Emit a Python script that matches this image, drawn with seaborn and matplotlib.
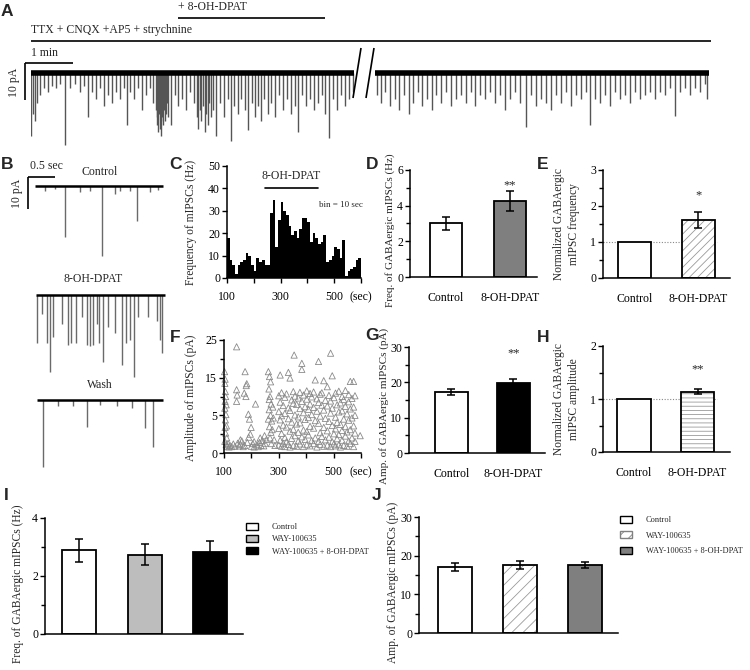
import numpy as np
import pandas as pd
import matplotlib
matplotlib.use("Agg")
import matplotlib.pyplot as plt
import seaborn as sns
from matplotlib.patches import Rectangle, Patch
from matplotlib.lines import Line2D

# ---------------------------------------------------------------- data
# Panel A: continuous recording, detected events (time s, amplitude pA)
a_left_t = [0, 2.5, 5, 7.5, 11, 16, 21, 26, 31, 36, 42.5, 49, 55, 61, 66, 71, 76, 81, 86, 91,
            96, 101, 106, 111, 116, 120, 124, 129, 134, 139, 144, 149, 152,
            156, 157, 158, 159, 160, 161, 162, 163, 164, 165, 166, 167, 168, 169, 170, 171,
            175, 180, 184, 189, 194, 199, 204,
            207, 209, 211, 213, 215, 217, 219, 221, 223, 225, 227,
            231, 236, 241, 246, 250, 254, 259, 262, 267, 271,
            276, 280, 284, 287, 291, 296, 300, 305, 310, 315,
            320, 325, 330, 334, 339, 344, 349, 354, 359, 364,
            368, 372, 378, 382, 388, 392, 398, 402]
a_left_amp = [17, 11, 13, 8, 6, 4, 5, 3.5, 4, 3, 19.5, 4, 3, 5, 3.5, 12, 5, 7, 4, 9,
              6, 8, 5, 7, 4, 14, 5, 7, 4, 10, 6, 4, 8,
              10, 14, 12, 16, 11, 15, 13, 17, 12, 14, 10, 13, 9, 11, 8, 12,
              14, 6, 9, 7, 10, 5, 8,
              12, 15, 10, 13, 9, 16, 11, 14, 8, 12, 10,
              17, 8, 12, 7, 18.5, 9, 11, 7, 10, 15.5,
              8, 12, 9, 13, 7, 11, 8, 12, 6, 10,
              7, 11, 9, 16, 6, 9, 7, 10, 8, 6,
              11, 17.5, 7, 10, 6, 9, 7, 5]
a_right_t = [2.5, 7.5, 12.5, 19, 25, 30, 36, 42.5, 47.5, 54, 59, 65, 71, 76, 82.5, 89, 95, 101,
             107.5, 114, 120, 125, 131, 137.5, 144, 150, 156, 162.5, 169, 175, 181, 189, 195,
             201, 207.5, 214, 220, 226, 232.5, 239, 245, 251, 257.5, 264, 269, 275, 281, 287.5,
             294, 300, 306, 312.5, 319, 325, 331, 337.5, 344, 350, 356, 362.5, 369, 375, 381,
             387.5, 394, 400, 406, 412.5, 415]
a_right_amp = [6, 8, 5, 9, 7, 10, 6, 11, 8, 5, 9, 7, 10, 6, 8, 5, 9, 7, 6, 8,
               5, 9, 6, 7, 5, 8, 6, 10, 7, 5, 8, 14.5, 6, 9, 7, 8, 10, 6, 8, 5,
               9, 6, 7, 5, 14, 7, 8, 6, 9, 5, 7, 6, 8, 5, 7, 6, 5, 7, 5, 6,
               4, 11.5, 5, 4, 6, 4, 5, 3, 7]

# Panel B: example sweeps (time s, amplitude pA)
b_ctrl_t = [0.185, 0.37, 0.556, 0.83, 1.02, 1.24, 1.48, 1.57, 1.76, 1.89, 2.13, 2.28]
b_ctrl_amp = [1.5, 1.0, 16, 2.0, 1.5, 22, 2.5, 1.5, 1.5, 11, 2.0, 1.2]
b_dpat_t = [0.02, 0.11, 0.20, 0.26, 0.31, 0.48, 0.59, 0.65, 0.74, 0.85, 0.94, 1.00, 1.06,
            1.13, 1.17, 1.24, 1.33, 1.46, 1.59, 1.67, 1.74, 1.81, 1.89, 2.07, 2.24, 2.30, 2.33]
b_dpat_amp = [15, 6, 15, 24, 13, 9, 15.6, 15, 15, 7, 15.6, 16, 15.6,
              9, 15, 21, 10, 12, 22, 15, 14, 25.6, 7, 7, 8, 14, 18]
b_wash_t = [0.11, 0.39, 0.67, 0.93, 1.17, 1.48, 1.76, 2.0, 2.15]
b_wash_amp = [21, 2, 2, 8.4, 1.5, 2, 2.5, 8.8, 14.7]

# Panel C: frequency histogram, bin = 10 s
c_bin_start = list(range(100, 600, 10))
c_freq = [18, 8, 6, 2, 6, 7, 8, 11, 10, 6, 3, 9, 7, 8, 6, 6,
          29, 35, 14, 26, 34, 30, 28, 23, 19, 21, 18, 22, 27, 27, 25, 16, 20, 18, 15, 16, 19,
          7, 8, 10, 14, 13, 9, 17, 1, 3, 4, 5, 8, 9]

# Panel D/E/G/H: two-group comparisons
two_groups = ["Control", "8-OH-DPAT"]
d_mean, d_sem = [3.0, 4.25], [0.35, 0.55]
e_mean, e_sem = [1.0, 1.62], [0.0, 0.22]
g_mean, g_sem = [17.3, 19.8], [0.9, 1.2]
h_mean, h_sem = [1.0, 1.14], [0.0, 0.05]

# Panel F: amplitude scatter (time s, amplitude on printed axis scale)
f_base_t = [102, 104, 103, 105, 106, 104, 108, 103, 107, 105, 109, 104, 106, 110, 103, 108, 112, 115, 118,
            146, 146, 148, 146,
            177, 183, 181, 174, 180, 189, 193, 215, 199, 196, 190,
            122, 128, 134, 140, 150, 155, 160, 165, 170, 175, 185, 200, 205, 210, 220, 225, 230, 235,
            240, 245, 250, 255, 160, 210, 232, 248,
            262, 266, 270, 264, 268, 272, 265, 270, 274, 266, 271, 268, 273, 278, 280, 276, 283, 286,
            262, 265]
f_base_amp = [21.6, 19.6, 18.5, 16.3, 15.0, 13.7, 12.8, 11.9, 10.2, 8.8, 7.2, 6.8, 5.3, 4.0, 3.1, 2.2,
              1.8, 2.5, 1.6,
              28.2, 16.8, 15.4, 13.7,
              21.6, 18.4, 17.9, 15.9, 15.0, 10.3, 9.0, 13.0, 6.8, 5.0, 4.2,
              2.0, 1.7, 2.4, 1.8, 2.6, 1.9, 2.3, 3.2, 1.7, 2.0, 2.8, 1.8, 2.5, 3.0, 2.2, 1.7, 2.8, 2.0,
              3.3, 1.9, 2.6, 3.6, 3.5, 1.6, 4.0, 4.6,
              21.6, 20.3, 18.9, 17.0, 15.0, 13.0, 11.5, 10.0, 8.5, 7.0, 5.5, 4.0, 2.5, 12.2, 9.3, 6.2,
              3.5, 2.0, 9.0, 14.2]
f_drug_times = [300, 305, 310, 316, 322, 328, 335, 341, 347, 353, 356, 359, 365, 371, 377, 384,
                390, 396, 402, 408, 414, 420, 427, 433, 439, 445, 451, 457, 464, 470, 477, 483,
                489, 495, 501, 507, 513, 519, 525, 531, 537, 543, 549, 555, 561, 567, 573, 578, 597]
f_drug_amps = [[2.1, 6.5, 11.0, 15.2], [20.7, 3.4, 8.8, 13.5], [1.8, 5.2, 9.9, 16.0],
               [2.6, 7.4, 12.6], [4.1, 10.5, 14.8, 1.7], [3.0, 6.9, 15.7],
               [21.4, 2.3, 9.1, 12.0], [19.9, 5.8, 11.3, 1.6], [3.9, 8.2, 14.1],
               [2.0, 6.3, 13.2, 16.3], [26.0], [4.6, 10.1, 15.1], [1.8, 7.7, 12.9],
               [3.2, 9.6, 14.6, 5.5], [2.4, 8.0, 11.8, 16.1], [23.8, 22.2, 4.3, 13.7],
               [1.7, 6.1, 10.7, 15.4], [3.6, 8.9, 12.3], [2.2, 5.7, 14.3, 16.5],
               [4.8, 9.4, 11.6], [1.9, 7.1, 13.0, 15.8], [3.3, 10.2, 14.9],
               [2.5, 6.6, 12.1, 16.2], [19.4, 4.0, 8.6], [1.6, 11.1, 14.4],
               [24.3, 3.1, 7.9, 13.4], [2.3, 5.4, 9.8, 15.6], [4.4, 12.7, 16.0],
               [19.2, 1.8, 6.8, 11.4], [3.5, 9.2, 14.0], [17.6, 2.1, 5.9, 12.5],
               [4.2, 8.4, 15.3], [26.5, 1.7, 10.6, 13.8], [20.5, 3.0, 7.3, 11.9],
               [2.4, 5.1, 14.7], [1.9, 6.4, 9.5, 15.9], [3.8, 8.1, 12.8],
               [2.2, 4.9, 10.9, 16.4], [1.6, 7.6, 13.3], [3.4, 6.0, 11.2, 15.0],
               [2.0, 9.0, 14.2], [4.5, 7.0, 12.4, 16.6], [1.8, 5.6, 10.4],
               [3.2, 8.7, 13.6, 15.5], [19.0, 2.5, 6.2, 11.7], [4.0, 9.3, 14.5],
               [19.0, 1.7, 7.2, 12.2], [3.1, 5.3, 10.0, 15.2], [4.6]]
f_ytick_labels = ["0", "5", "15", "25"]

# Panel I/J: three-group comparisons
three_groups = ["Control", "WAY-100635", "WAY-100635 + 8-OH-DPAT"]
i_mean, i_sem = [2.88, 2.74, 2.84], [0.39, 0.37, 0.35]
j_mean, j_sem = [17.05, 17.65, 17.65], [0.95, 1.05, 0.77]

# ---------------------------------------------------------------- style
sns.set_theme(style="ticks")
plt.rcParams["font.family"] = ["Liberation Serif", "DejaVu Serif"]
plt.rcParams.update({
    "axes.linewidth": 1.1, "xtick.major.width": 1.0, "ytick.major.width": 1.0,
    "ytick.minor.width": 1.0, "xtick.labelsize": 8.5, "ytick.labelsize": 8.5,
    "axes.labelsize": 8.5, "hatch.linewidth": 0.6, "ytick.major.size": 3.5,
    "ytick.minor.size": 3.0, "xtick.major.size": 3.5, "ytick.major.pad": 1.5,
    "xtick.major.pad": 2, "axes.edgecolor": "black", "xtick.color": "black",
    "ytick.color": "black",
})

W, H = 750, 670
fig = plt.figure(figsize=(W / 100, H / 100), dpi=100)
fig.patch.set_facecolor("white")


def box(x0, x1, ytop, ybot):
    return fig.add_axes([x0 / W, 1 - ybot / H, (x1 - x0) / W, (ybot - ytop) / H])


def fline(x0, y0, x1, y1, lw=1.2, color="black"):
    fig.add_artist(Line2D([x0 / W, x1 / W], [1 - y0 / H, 1 - y1 / H], lw=lw, color=color,
                          transform=fig.transFigure, solid_capstyle="butt"))


def ftext(x, y, s, **kw):
    fig.text(x / W, 1 - y / H, s, **kw)


def letter(x, y, s):
    ftext(x, y, s, fontsize=12.5, fontweight="bold", family="Liberation Sans",
          ha="center", va="center")


def ylab(ax, text, xr, yc, size=8.3):
    ax.set_ylabel(text, fontsize=size, linespacing=1.35)
    ax.yaxis.set_label_coords(xr / W, 1 - yc / H, transform=fig.transFigure)


def trace(x0, x1, base, ytop, ybot, pps, ppu, t, amp, dur, base_lw, ev_lw, ev_col):
    ax = box(x0, x1, ytop, ybot)
    ax.set_xlim(0, (x1 - x0) / pps)
    ax.set_ylim(-(ybot - base) / ppu, (base - ytop) / ppu)
    ax.axis("off")
    ax.vlines(t, [-a for a in amp], 0, color=ev_col, lw=ev_lw)
    ax.plot([0, dur], [0, 0], color="black", lw=base_lw, solid_capstyle="butt")
    return ax


# ---------------------------------------------------------------- panel A
letter(7, 12, "A")
ftext(178, 7, "+ 8-OH-DPAT", fontsize=8.5, va="center", ha="left")
fline(178, 18, 325, 18)
ftext(31, 30, "TTX + CNQX +AP5 + strychnine", fontsize=8.5, va="center", ha="left")
fline(31, 41, 711, 41)
ftext(31, 53, "1 min", fontsize=8.5, va="center", ha="left")
fline(25, 63, 73, 63)
fline(25, 63, 25, 100)
ftext(14, 82, "10 pA", fontsize=8.5, va="center", ha="center", rotation=90)
trace(31, 355, 73, 63, 150, 0.8, 3.7, a_left_t, a_left_amp, 404, 4.0, 1.0, "#555555")
trace(375, 711, 73, 63, 150, 0.8, 3.7, a_right_t, a_right_amp, 418, 4.0, 1.0, "#555555")
fline(353, 98, 361, 48, lw=1.2)
fline(366, 98, 374, 48, lw=1.2)

# ---------------------------------------------------------------- panel B
letter(7, 165, "B")
ftext(30, 166, "0.5 sec", fontsize=8.5, va="center", ha="left")
fline(28, 177, 55, 177)
fline(28, 177, 28, 209)
ftext(17, 193, "10 pA", fontsize=8.5, va="center", ha="center", rotation=90)
ftext(100, 172, "Control", fontsize=8.5, va="center", ha="center")
ftext(93, 279, "8-OH-DPAT", fontsize=8.5, va="center", ha="center")
ftext(100, 385, "Wash", fontsize=8.5, va="center", ha="center")
trace(35, 164, 186, 178, 262, 54, 3.2, b_ctrl_t, b_ctrl_amp, 2.37, 1.8, 1.0, "#6a6a6a")
trace(36, 166, 295, 287, 382, 54, 3.2, b_dpat_t, b_dpat_amp, 2.38, 1.8, 1.0, "#6a6a6a")
trace(37, 164, 400, 392, 472, 54, 3.2, b_wash_t, b_wash_amp, 2.33, 1.8, 1.0, "#6a6a6a")

# ---------------------------------------------------------------- panel C
letter(175, 165, "C")
axC = box(227, 361, 166, 278)
dfC = pd.DataFrame({"t": c_bin_start, "f": c_freq})
sns.histplot(data=dfC, x="t", weights="f", binwidth=10, binrange=(100, 600),
             color="black", alpha=1, linewidth=0, ax=axC)
axC.set_xlim(100, 600)
axC.set_ylim(0, 50)
axC.set_yticks(range(0, 51, 10))
axC.set_xticks(range(100, 601, 100))
axC.set_xticklabels(["100", "", "300", "", "500", "(sec)"])
axC.tick_params(axis="x", pad=6)
axC.set_xlabel("")
sns.despine(ax=axC)
ylab(axC, "Frequency of mIPSCs (Hz)", 197, 222)
axC.plot([240, 440], [40.4, 40.4], color="black", lw=1.2)
axC.text(340, 43, "8-OH-DPAT", ha="center", va="bottom", fontsize=8.5)
axC.text(525, 32.4, "bin = 10 sec", ha="center", va="center", fontsize=6.5)


# ---------------------------------------------------------------- bar helper
def bars(ax, groups, means, sems, colors, width, xlim, ylim, major, minor,
         hatches=None, hatch_col="#9a9a9a", ticklabels=True):
    sns.barplot(x=groups, y=means, hue=groups, palette=colors, saturation=1, width=width,
                edgecolor="black", linewidth=1.3, errorbar=None, legend=False, ax=ax)
    for i, (m, s) in enumerate(zip(means, sems)):
        if s > 0:
            ax.errorbar(i, m, yerr=s, fmt="none", ecolor="black", elinewidth=1.1,
                        capsize=3, capthick=1.1, zorder=5)
    if hatches:
        for i, h in hatches.items():
            p = ax.patches[i]
            p.set_hatch(h)
            p.set_edgecolor(hatch_col)
            p.set_linewidth(0)
            ax.add_patch(Rectangle((p.get_x(), p.get_y()), p.get_width(), p.get_height(),
                                   fill=False, edgecolor="black", lw=1.3, zorder=4))
    ax.set_xlim(*xlim)
    ax.set_ylim(*ylim)
    ax.set_yticks(major)
    ax.set_yticks(minor, minor=True)
    ax.set_yticklabels([f"{v:g}" for v in major])
    ax.tick_params(axis="y", which="minor", length=3)
    if ticklabels:
        ax.set_xticks(range(len(groups)))
        ax.set_xticklabels(groups, fontsize=8.5)
        ax.tick_params(axis="x", length=0, pad=11)
    else:
        ax.set_xticks([])
    ax.set_xlabel("")
    sns.despine(ax=ax)


# ---------------------------------------------------------------- panel D
letter(372, 165, "D")
axD = box(410, 537, 170, 277)
bars(axD, two_groups, d_mean, d_sem, ["white", "#7f7f7f"], 0.5, (-0.5625, 1.42), (0, 6),
     [0, 2, 4, 6], [1, 3, 5])
ylab(axD, "Freq. of GABAergic mIPSCs (Hz)", 395, 230, size=8.0)
axD.text(1, 5.15, "**", ha="center", va="center", fontsize=9)

# ---------------------------------------------------------------- panel E
letter(543, 165, "E")
axE = box(603, 730, 170, 278)
bars(axE, two_groups, e_mean, e_sem, ["white", "white"], 0.52, (-0.496, 1.5), (0, 3),
     [0, 1, 2, 3], [0.5, 1.5, 2.5], hatches={1: "////"})
axE.axhline(1, xmin=0, xmax=0.9, color="#888888", lw=0.8, ls=(0, (1, 1.5)), zorder=0)
ylab(axE, "Normalized GABAergic\nmIPSC frequency", 580, 224)
axE.text(1, 2.3, "*", ha="center", va="center", fontsize=9)

# ---------------------------------------------------------------- panel F
letter(175, 337, "F")
axF = box(224, 361, 340, 453)
f_time = list(f_base_t) + [t for t, a in zip(f_drug_times, f_drug_amps) for _ in a]
f_amp = list(f_base_amp) + [v for a in f_drug_amps for v in a]
dfF = pd.DataFrame({"time": f_time, "amp": f_amp})
sns.scatterplot(data=dfF, x="time", y="amp", marker="^", s=20, ax=axF, legend=False)
coll = axF.collections[0]
coll.set_facecolor("none")
coll.set_edgecolor("#8a8a8a")
coll.set_linewidth(0.6)
coll.set_clip_on(False)
axF.set_xlim(100, 600)
axF.set_ylim(0, 30)
axF.set_yticks([0, 10, 20, 30])
axF.set_yticklabels(f_ytick_labels)
axF.set_yticks([5, 15, 25], minor=True)
axF.tick_params(axis="y", which="minor", length=3)
axF.set_xticks(range(100, 601, 100))
axF.set_xticklabels(["100", "", "300", "", "500", "(sec)"])
axF.tick_params(axis="x", pad=6)
axF.set_xlabel("")
sns.despine(ax=axF)
ylab(axF, "Amplitude of mIPSCs (pA)", 197, 398)

# ---------------------------------------------------------------- panel G
letter(372, 336, "G")
axG = box(409, 545, 347, 453)
bars(axG, two_groups, g_mean, g_sem, ["white", "black"], 0.52, (-0.685, 1.51), (0, 30),
     [0, 10, 20, 30], [5, 15, 25])
ylab(axG, "Amp. of GABAergic mIPSCs (pA)", 389, 406, size=8.0)
axG.text(1, 28.1, "**", ha="center", va="center", fontsize=9)

# ---------------------------------------------------------------- panel H
letter(543, 337, "H")
axH = box(603, 730, 346, 452)
bars(axH, two_groups, h_mean, h_sem, ["white", "white"], 0.52, (-0.488, 1.51), (0, 2),
     [0, 1, 2], [0.5, 1.5], hatches={1: "----"})
axH.axhline(1, xmin=0, xmax=0.9, color="#888888", lw=0.8, ls=(0, (1, 1.5)), zorder=0)
ylab(axH, "Normalized GABAergic\nmIPSC amplitude", 580, 399)
axH.text(1, 1.56, "**", ha="center", va="center", fontsize=9)

# ---------------------------------------------------------------- panel I
letter(6, 495, "I")
axI = box(45, 243, 518, 634)
bars(axI, three_groups, i_mean, i_sem, ["white", "#bdbdbd", "black"], 0.52, (-0.52, 2.5),
     (0, 4), [0, 2, 4], [1, 3], ticklabels=False)
ylab(axI, "Freq. of GABAergic mIPSCs (Hz)", 24, 584)
hI = [Patch(facecolor=c, edgecolor="black", linewidth=1.0)
      for c in ["white", "#bdbdbd", "black"]]
fig.legend(handles=hI, labels=three_groups, loc="upper left",
           bbox_to_anchor=(246 / W, 1 - 523 / H), frameon=False, fontsize=6,
           handlelength=1.4, handleheight=0.9, handletextpad=1.7, labelspacing=0.45,
           borderpad=0, borderaxespad=0)

# ---------------------------------------------------------------- panel J
letter(377, 495, "J")
axJ = box(419, 618, 517, 633)
bars(axJ, three_groups, j_mean, j_sem, ["white", "white", "#7f7f7f"], 0.52, (-0.55, 2.5),
     (0, 30), [0, 10, 20, 30], [5, 15, 25], hatches={1: "///"}, ticklabels=False)
ylab(axJ, "Amp. of GABAergic mIPSCs (pA)", 399, 582)
hJ = [Patch(facecolor="white", edgecolor="black", linewidth=1.0),
      Patch(facecolor="white", edgecolor="#808080", linewidth=1.0, hatch="///"),
      Patch(facecolor="#7f7f7f", edgecolor="black", linewidth=1.0)]
fig.legend(handles=hJ, labels=three_groups, loc="upper left",
           bbox_to_anchor=(620 / W, 1 - 516 / H), frameon=False, fontsize=6,
           handlelength=1.4, handleheight=0.9, handletextpad=1.7, labelspacing=0.85,
           borderpad=0, borderaxespad=0)

fig.savefig("out.png", dpi=100)
